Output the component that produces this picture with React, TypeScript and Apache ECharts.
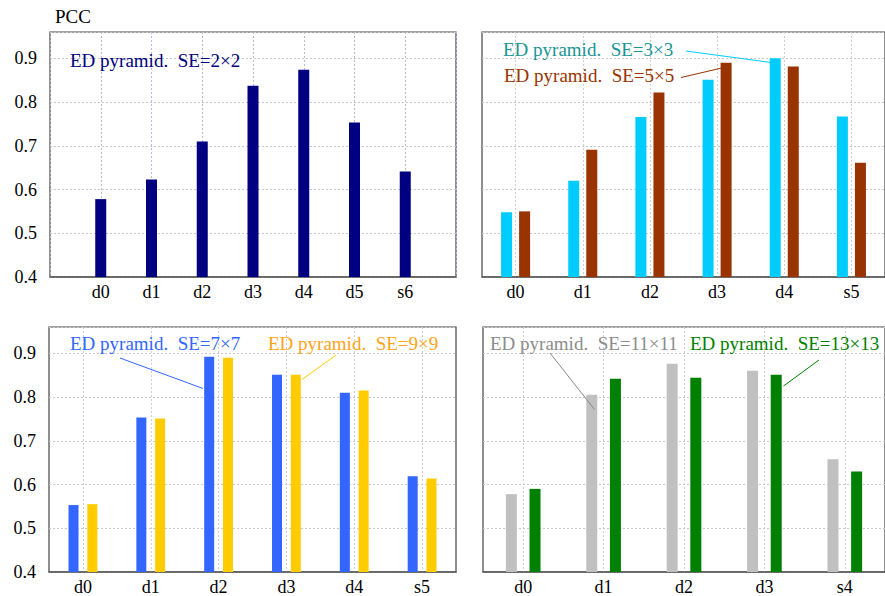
import React, { useEffect, useRef } from "react";
import * as echarts from "echarts";

// Panel 1 (top-left): padded with blank slots at both ends
const cats1 = ["", "d0", "d1", "d2", "d3", "d4", "d5", "s6", ""];
const se2 = [null, 0.578, 0.623, 0.71, 0.837, 0.874, 0.753, 0.641, null];

// Panel 2 (top-right)
const cats2 = ["d0", "d1", "d2", "d3", "d4", "s5"];
const se3 = [0.548, 0.62, 0.766, 0.851, 0.9, 0.767];
const se5 = [0.55, 0.691, 0.822, 0.89, 0.881, 0.661];

// Panel 3 (bottom-left)
const cats3 = ["d0", "d1", "d2", "d3", "d4", "s5"];
const se7 = [0.553, 0.753, 0.892, 0.851, 0.81, 0.619];
const se9 = [0.555, 0.751, 0.89, 0.851, 0.815, 0.614];

// Panel 4 (bottom-right)
const cats4 = ["d0", "d1", "d2", "d3", "s4"];
const se11 = [0.578, 0.805, 0.876, 0.86, 0.658];
const se13 = [0.59, 0.842, 0.844, 0.851, 0.63];

const yTicks = [0.4, 0.5, 0.6, 0.7, 0.8, 0.9];
const yMin = 0.4;
const yMax = 0.96;

const FONT = "Liberation Serif, serif";

export default function App() {
  const ref = useRef<HTMLDivElement>(null);

  useEffect(() => {
    if (!ref.current) return;
    const chart = echarts.init(ref.current, undefined, { renderer: "svg" });

    const grids = [
      { left: 50, top: 32, width: 406, height: 245 },
      { left: 482, top: 32, width: 406, height: 245 },
      { left: 49, top: 327, width: 407, height: 245 },
      { left: 483, top: 327, width: 405, height: 245 },
    ].map((g) => ({
      ...g,
      show: true,
      borderColor: "#444",
      borderWidth: 1.2,
      backgroundColor: "transparent",
    }));

    const mkX = (idx: number, data: string[], boundaryGap: boolean, vColor: string) => ({
      type: "category",
      gridIndex: idx,
      data,
      boundaryGap,
      axisLine: { show: true, lineStyle: { color: "#555", width: 1.5 } },
      axisTick: { show: false, alignWithLabel: true },
      axisLabel: {
        color: "#000",
        fontSize: 18,
        fontFamily: FONT,
        margin: 6,
        interval: 0,
      },
      splitLine: {
        show: true,
        alignWithLabel: true,
        lineStyle: { color: vColor, type: [2, 2], width: 1 },
      },
    });

    const mkY = (idx: number, showLabels: boolean) => ({
      type: "value",
      gridIndex: idx,
      min: yMin,
      max: yMax,
      interval: 0.1,
      axisLine: { show: false },
      axisTick: { show: false },
      axisLabel: {
        show: showLabels,
        color: "#000",
        fontSize: 18,
        fontFamily: FONT,
        margin: 13,
        showMaxLabel: false,
        formatter: (v: number) => {
          const t = yTicks.find((k) => Math.abs(k - v) < 1e-6);
          return t === undefined ? "" : t.toFixed(1);
        },
      },
      splitLine: {
        show: true,
        lineStyle: { color: "#c8c8c8", type: [2, 2], width: 1 },
      },
    });

    const bar = (name: string, x: number, data: (number | null)[], color: string, w: number, gap?: string) => ({
      type: "bar",
      name,
      xAxisIndex: x,
      yAxisIndex: x,
      data,
      barWidth: w,
      barGap: gap,
      itemStyle: { color },
    });

    const txt = (x: number, y: number, text: string, fill: string) => ({
      type: "text",
      x,
      y,
      style: {
        text,
        fill,
        fontSize: 19,
        fontFamily: FONT,
        verticalAlign: "middle",
      },
      z: 100,
    });
    const ln = (x1: number, y1: number, x2: number, y2: number, stroke: string) => ({
      type: "line",
      shape: { x1, y1, x2, y2 },
      style: { stroke, lineWidth: 1 },
      z: 100,
    });

    chart.setOption({
      animation: false,
      backgroundColor: "#fff",
      grid: grids,
      xAxis: [
        mkX(0, cats1, false, "#b8b8e0"),
        mkX(1, cats2, true, "#cfcfcf"),
        mkX(2, cats3, true, "#cfcfcf"),
        mkX(3, cats4, true, "#cfcfcf"),
      ],
      yAxis: [mkY(0, true), mkY(1, false), mkY(2, true), mkY(3, false)],
      series: [
        bar("ED pyramid. SE=2×2", 0, se2, "#000080", 11),
        bar("ED pyramid. SE=3×3", 1, se3, "#00ccff", 11, "64%"),
        bar("ED pyramid. SE=5×5", 1, se5, "#993300", 11, "64%"),
        bar("ED pyramid. SE=7×7", 2, se7, "#3366ff", 10, "88%"),
        bar("ED pyramid. SE=9×9", 2, se9, "#ffcc00", 10, "88%"),
        bar("ED pyramid. SE=11×11", 3, se11, "#c0c0c0", 11, "115%"),
        bar("ED pyramid. SE=13×13", 3, se13, "#008000", 11, "115%"),
      ],
      graphic: [
        txt(55, 16, "PCC", "#000"),
        txt(70, 60, "ED pyramid.  SE=2×2", "#000080"),
        txt(503, 49, "ED pyramid.  SE=3×3", "#1a9494"),
        ln(686, 51, 771, 62.5, "#00ccff"),
        txt(504, 75, "ED pyramid.  SE=5×5", "#993300"),
        ln(681, 77.5, 724, 67.5, "#993300"),
        txt(70, 343, "ED pyramid.  SE=7×7", "#3366ff"),
        ln(120, 358, 203, 388.5, "#3366ff"),
        txt(268, 343, "ED pyramid.  SE=9×9", "#ffa31a"),
        ln(336, 355, 302, 379.5, "#ffcc00"),
        txt(490, 343, "ED pyramid.  SE=11×11", "#8c8c8c"),
        ln(550, 353, 594.5, 409.5, "#888888"),
        txt(690, 343, "ED pyramid.  SE=13×13", "#008000"),
        ln(819, 360, 783.5, 386, "#008000"),
      ],
    });

    return () => chart.dispose();
  }, []);

  return (
    <div
      ref={ref}
      style={{ position: "absolute", left: 0, top: 0, width: 885, height: 596 }}
    />
  );
}
